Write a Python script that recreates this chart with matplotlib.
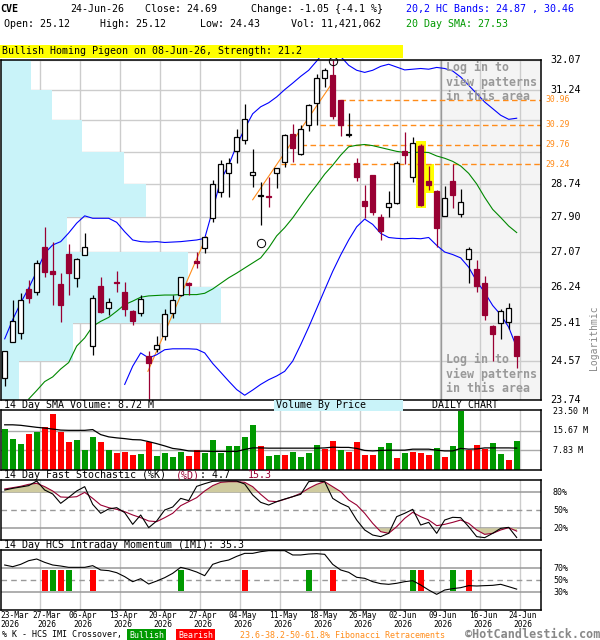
import matplotlib
matplotlib.use('Agg')
import matplotlib.pyplot as plt
import matplotlib.transforms as mtransforms
from matplotlib.patches import Rectangle

plt.rcParams['font.family'] = ['DejaVu Sans Mono']

# ---------------- data ----------------
date_labels = ['23-Mar', '27-Mar', '06-Apr', '13-Apr', '20-Apr', '27-Apr', '04-May',
               '11-May', '18-May', '26-May', '02-Jun', '09-Jun', '16-Jun', '24-Jun']
label_idx = [0, 4, 9, 14, 19, 24, 29, 34, 39, 44, 49, 54, 59, 64]

opens = [24.21, 25.00, 25.18, 26.19, 26.13, 27.18, 26.62, 26.30, 27.01, 26.45,
         26.99, 24.91, 26.27, 25.76, 26.36, 26.12, 25.69, 25.63, 24.68, 24.84,
         25.13, 25.64, 26.06, 26.33, 26.85, 27.16, 27.88, 28.54, 29.02, 29.59,
         29.89, 28.97, 28.43, 28.44, 29.01, 29.31, 30.05, 29.52, 30.29, 30.86,
         31.57, 31.64, 30.95, 30.00, 29.29, 28.31, 28.97, 27.92, 28.17, 28.27,
         29.58, 28.92, 29.72, 28.81, 28.56, 27.94, 28.81, 27.98, 26.89, 26.65,
         26.33, 25.35, 25.41, 25.43, 25.12]
highs = [24.80, 25.94, 26.10, 26.39, 26.88, 27.66, 27.31, 26.56, 27.26, 26.92,
         27.52, 26.04, 26.48, 25.98, 26.62, 26.35, 25.70, 26.06, 24.79, 25.12,
         25.72, 26.04, 26.48, 26.36, 27.07, 27.43, 28.84, 29.35, 29.40, 30.18,
         30.84, 29.65, 28.79, 28.91, 29.15, 30.04, 30.30, 30.27, 30.84, 31.68,
         31.85, 32.07, 30.96, 30.60, 29.41, 28.71, 28.98, 27.99, 28.56, 29.33,
         30.09, 29.96, 29.78, 29.20, 28.58, 28.68, 29.24, 28.60, 27.18, 26.88,
         26.50, 25.36, 25.73, 25.87, 25.12]
lows = [24.03, 24.98, 25.06, 25.87, 26.06, 26.48, 25.81, 25.43, 26.04, 26.23,
        26.99, 24.71, 25.63, 25.60, 26.12, 25.56, 25.36, 25.56, 23.77, 24.78,
        25.04, 25.53, 26.02, 26.06, 26.68, 27.04, 27.80, 28.42, 28.40, 29.27,
        29.77, 28.67, 27.72, 28.17, 28.63, 29.18, 29.31, 29.48, 30.12, 30.27,
        31.30, 30.43, 29.98, 29.96, 28.82, 27.88, 27.96, 27.35, 27.90, 28.23,
        29.24, 28.79, 28.19, 28.58, 27.18, 27.93, 28.13, 27.92, 26.33, 26.13,
        25.47, 24.57, 25.06, 25.28, 24.43]
closes = [24.79, 25.45, 25.94, 25.98, 26.81, 26.58, 26.54, 25.81, 26.56, 26.89,
          27.19, 25.98, 25.66, 25.89, 26.32, 25.73, 25.45, 25.97, 24.54, 24.93,
          25.62, 25.94, 26.47, 26.29, 26.80, 27.41, 28.75, 29.24, 29.27, 29.96,
          30.45, 29.04, 28.45, 28.41, 29.14, 30.01, 29.67, 30.16, 30.83, 31.57,
          31.80, 30.52, 30.29, 30.03, 28.92, 28.19, 28.04, 27.58, 28.25, 29.27,
          29.48, 29.79, 28.21, 28.71, 27.65, 28.38, 28.46, 28.28, 27.13, 26.25,
          25.60, 25.17, 25.68, 25.76, 24.69]

band_upper = [25.06, 25.49, 25.87, 26.21, 26.60, 27.03, 27.23, 27.31, 27.52, 27.76,
              27.94, 27.88, 27.88, 27.88, 27.78, 27.55, 27.35, 27.31, 27.30, 27.31,
              27.29, 27.30, 27.31, 27.33, 27.35, 27.39, 28.09, 28.84, 29.22, 29.74,
              30.18, 30.58, 30.77, 30.88, 31.04, 31.24, 31.42, 31.61, 31.78, 32.04,
              32.32, 32.25, 32.17, 31.92, 31.78, 31.72, 31.78, 31.89, 31.95, 31.87,
              31.79, 31.81, 31.83, 31.81, 31.86, 31.83, 31.76, 31.59, 31.36, 31.13,
              30.90, 30.72, 30.54, 30.43, 30.46]
lower_start = 15
band_lower = [24.07, 24.46, 24.75, 24.64, 24.71, 24.82, 24.84, 24.84, 24.84, 24.83,
              24.75, 24.52, 24.33, 24.14, 23.96, 23.84, 23.95, 24.07, 24.17, 24.25,
              24.35, 24.57, 24.93, 25.32, 25.74, 26.17, 26.60, 26.99, 27.35, 27.67,
              27.86, 27.73, 27.51, 27.41, 27.39, 27.38, 27.39, 27.38, 27.41, 27.22,
              27.06, 27.00, 26.92, 26.70, 26.37, 26.11, 25.81, 25.60, 25.32, 24.87]
sma_start = 3
sma20 = [23.76, 23.94, 24.13, 24.23, 24.40, 24.54, 24.90, 25.08, 25.34, 25.45,
         25.54, 25.68, 25.83, 25.91, 26.00, 26.03, 26.04, 26.05, 26.05, 26.06,
         26.06, 26.06, 26.09, 26.19, 26.32, 26.45, 26.56, 26.68, 26.80, 26.92,
         27.16, 27.45, 27.65, 27.89, 28.17, 28.45, 28.71, 28.99, 29.22, 29.48,
         29.70, 29.74, 29.76, 29.73, 29.68, 29.63, 29.58, 29.55, 29.55, 29.56,
         29.55, 29.46, 29.40, 29.32, 29.20, 29.01, 28.74, 28.40, 28.10, 27.90,
         27.69, 27.53]

price_ticks = [23.74, 24.57, 25.41, 26.24, 27.07, 27.90, 28.74, 29.57, 30.40, 31.24, 32.07]
price_tick_labels = ['23.74', '24.57', '25.41', '26.24', '27.07', '27.90', '28.74',
                     '', '', '31.24', '32.07']
# volume by price, one value per band between price ticks (bottom to top)
vbp_volume = [18, 72, 220, 187, 66, 145, 123, 81, 51, 30]

fib_levels = [29.24, 29.76, 30.29, 30.96]
fib_start = [34.6, 37.1, 39.4, 41.9]
trend_lines = [((17.9, 24.35), (25.2, 27.43)), ((31.0, 28.34), (40.9, 31.41))]
pivot_marks = [(32, 27.28), (41, 32.04)]
pattern_idx = [52, 53]
hidden_from = 54.5

volume = [16.2, 12.2, 10.3, 14.2, 15.0, 17.0, 22.5, 15.0, 11.1, 12.0,
          7.9, 13.0, 11.1, 7.9, 6.7, 7.1, 5.9, 6.3, 11.1, 5.5,
          6.7, 5.1, 7.1, 5.5, 7.9, 6.8, 11.9, 6.8, 9.5, 9.5,
          13.0, 17.8, 9.5, 5.5, 5.8, 5.8, 7.1, 5.1, 6.7, 9.9,
          8.4, 11.5, 7.9, 7.1, 11.1, 5.9, 5.9, 9.1, 10.7, 4.7,
          6.7, 7.1, 6.7, 5.9, 8.7, 5.1, 9.5, 23.4, 7.9, 9.9,
          8.3, 10.7, 6.3, 4.0, 11.42]
volume_dir = 'gggrgrrrrggg' 'rgrrrgrggggrrggggggg' 'rggrggggrrgrrrrggrgrrrgrggrrrggr'
volume_sma = [18.0, 18.0, 17.8, 17.4, 17.0, 16.7, 16.3, 15.9, 15.8, 15.8,
              15.8, 16.1, 14.1, 13.2, 12.8, 12.5, 12.1, 12.0, 11.3, 10.5,
              9.6, 8.6, 8.2, 7.6, 7.5, 7.5, 7.4, 7.4, 7.4, 7.4,
              8.2, 8.8, 8.8, 8.7, 8.7, 8.7, 8.7, 8.7, 8.7, 8.7,
              8.8, 9.1, 9.0, 9.0, 8.6, 7.8, 7.6, 7.8, 7.9, 7.9,
              7.9, 8.3, 8.3, 8.3, 7.9, 7.6, 7.6, 8.6, 8.3, 8.4,
              8.8, 8.8, 8.8, 8.8, 8.72]
volume_ticks = [7.83, 15.67, 23.50]

stoch_k = [83.8, 86.6, 88.8, 91.1, 98.8, 83.8, 77.2, 61.6, 71.6, 82.2,
           89.4, 59.9, 45.0, 52.2, 54.4, 46.1, 26.6, 42.2, 21.1, 32.2,
           50.5, 55.5, 69.9, 66.1, 89.9, 94.4, 98.3, 98.8, 98.8, 98.8,
           93.8, 75.5, 63.3, 58.8, 64.4, 68.8, 72.7, 76.6, 97.7, 98.8,
           97.7, 69.9, 61.6, 55.5, 33.8, 17.2, 8.8, 6.1, 11.6, 39.4,
           45.0, 51.6, 25.5, 29.9, 11.6, 33.8, 38.3, 37.7, 22.7, 6.1,
           4.4, 11.6, 19.9, 21.6, 4.7]
stoch_d = [85.5, 87.7, 90.0, 93.3, 95.0, 89.4, 82.2, 72.2, 71.6, 72.7,
           79.9, 69.9, 58.8, 54.4, 51.6, 47.7, 42.2, 37.7, 32.2, 31.1,
           37.7, 45.0, 57.7, 64.4, 71.1, 82.2, 91.1, 96.6, 97.7, 97.7,
           96.6, 89.4, 76.6, 65.5, 64.4, 68.3, 72.7, 78.3, 86.6, 93.3,
           97.7, 89.4, 81.1, 67.2, 58.8, 45.0, 28.3, 14.4, 11.6, 22.7,
           36.6, 46.6, 39.4, 33.8, 24.4, 26.6, 29.9, 33.8, 28.3, 17.2,
           9.9, 11.6, 17.2, 21.1, 15.3]

imi = [75.5, 72.7, 76.6, 82.7, 85.5, 79.9, 75.5, 73.8, 71.6, 71.6,
       71.6, 74.4, 67.2, 66.1, 62.7, 56.1, 47.7, 52.7, 43.8, 48.8,
       54.4, 61.6, 71.6, 68.3, 63.8, 57.7, 76.6, 81.1, 83.8, 89.9,
       94.9, 94.9, 97.7, 99.4, 99.4, 99.4, 92.2, 92.2, 93.8, 94.4,
       93.3, 76.6, 67.2, 63.3, 55.0, 53.3, 47.7, 44.4, 43.3, 45.0,
       47.7, 49.4, 42.2, 33.8, 26.6, 33.8, 36.1, 37.7, 41.1, 40.5,
       41.1, 41.6, 43.3, 39.4, 35.3]
cross_bull = [6, 8, 22, 38, 51, 56]
cross_bear = [5, 7, 11, 30, 41, 52, 58]

# ---------------- styling ----------------
W, H = 600, 640
MAROON = '#990033'
ORANGE = '#ff8c1a'
GRID = '#cccccc'
CYAN = '#c9f3f9'
GREEN = '#009900'
RED = '#ff0000'
XLIM = (-0.4625, 67.04)

fig = plt.figure(figsize=(W / 100, H / 100), dpi=100)
fig.patch.set_facecolor('white')


def px_axes(x0, y0, x1, y1):
    return fig.add_axes([x0 / W, 1 - y1 / H, (x1 - x0) / W, (y1 - y0) / H])


def ftext(x, y, s, **kw):
    kw.setdefault('va', 'center')
    kw.setdefault('fontsize', 7.2)
    return fig.text(x / W, 1 - y / H, s, **kw)


def frame(ax):
    ax.set_xlim(*XLIM)
    ax.tick_params(which='both', length=0, labelleft=False, labelbottom=False)
    for sp in ax.spines.values():
        sp.set_color('black')
        sp.set_linewidth(1.1)
        sp.set_zorder(20)
    grid_x = [i + 0.41 for i in label_idx[1:]]
    for g in grid_x:
        ax.axvline(g, color=GRID, lw=1.0, zorder=0.5)


ax_p = px_axes(1, 60, 541, 400)
ax_v = px_axes(1, 410, 541, 470)
ax_s = px_axes(1, 480.3, 541, 540.3)
ax_m = px_axes(1, 550.3, 541, 610.3)

# ---------------- price panel ----------------
ax = ax_p
ax.set_yscale('log')
ax.set_ylim(price_ticks[0], price_ticks[-1])
frame(ax)
ax.set_yticks([], minor=True)
ax.set_yticks([])
ax.axvspan(hidden_from, XLIM[1], color='#f4f4f4', zorder=0.2, lw=0)
ax.axvline(hidden_from, color='#999999', lw=1.0, zorder=0.6)
for t in price_ticks:
    ax.axhline(t, color=GRID, lw=1.0, zorder=0.5)

blend = mtransforms.blended_transform_factory(ax.transAxes, ax.transData)
vmax = max(vbp_volume)
for lo, hi, v in zip(price_ticks[:-1], price_ticks[1:], vbp_volume):
    ax.add_patch(Rectangle((0, lo), v / vmax * 0.407, hi - lo, transform=blend,
                           facecolor=CYAN, edgecolor='none', zorder=0.7))

for lvl, x0 in zip(fib_levels, fib_start):
    ax.plot([x0, XLIM[1]], [lvl, lvl], color=ORANGE, lw=1.0, ls=(0, (4, 2.5)), zorder=2)
    ax.text(1.0075, lvl, f'{lvl:.2f}', transform=blend, color=ORANGE, fontsize=5.9,
            va='center', ha='left')
for t, lab in zip(price_ticks, price_tick_labels):
    if lab:
        ax.text(1.0167, t, lab, transform=blend, fontsize=7.3, va='center', ha='left')

for (x0, y0), (x1, y1) in trend_lines:
    ax.plot([x0, x1], [y0, y1], color=ORANGE, lw=0.8, zorder=2)

for i in pattern_idx:
    ax.add_patch(Rectangle((i - 0.62, lows[i] * 0.998), 1.24, highs[i] * 1.002 - lows[i] * 0.998,
                           facecolor='#ffff00', edgecolor='none', zorder=1))

xs = list(range(len(closes)))
ax.plot(xs, band_upper, color='#0000ff', lw=0.8, zorder=3, clip_on=False)
ax.plot(range(lower_start, lower_start + len(band_lower)), band_lower, color='#0000ff', lw=0.8, zorder=3)
ax.plot(range(sma_start, sma_start + len(sma20)), sma20, color='#008800', lw=0.8, zorder=3)

for i, (o, h, l, c) in enumerate(zip(opens, highs, lows, closes)):
    up = c >= o
    col = 'black' if up else MAROON
    ax.vlines(i, l, h, color=col, lw=0.9, zorder=4)
    bottom = min(o, c)
    height = max(abs(c - o), 0.02)
    ax.bar(i, height, bottom=bottom, width=0.62, facecolor='white' if up else MAROON,
           edgecolor=col, lw=0.9, zorder=5)

for i, p in pivot_marks:
    ax.plot(i, p, marker='o', ms=6, mfc='none', mec='black', mew=0.7, zorder=6, clip_on=False)

login_lines = ['Log in to', 'view patterns', 'in this area']
for top in (67, 359):
    for k, s in enumerate(login_lines):
        ftext(446.5, top + 15 * k, s, color='#999999', fontsize=8.4, fontweight='bold', zorder=10)

ftext(594, 338, 'Logarithmic', rotation=90, ha='center', color='#888888', fontsize=7)

# ---------------- volume panel ----------------
ax = ax_v
frame(ax)
ax.set_ylim(0, 23.9)
for t in volume_ticks[:2]:
    ax.axhline(t, color='#aaaaaa', lw=1.0, zorder=0.6)
ax.bar(xs, volume, width=0.72, color=[GREEN if d == 'g' else RED for d in volume_dir],
       zorder=2, lw=0)
ax.plot(xs, volume_sma, color='black', lw=0.9, zorder=3)
vblend = mtransforms.blended_transform_factory(ax.transAxes, ax.transData)
for t in volume_ticks:
    ax.text(1.0222, t, f'{t:.2f} M', transform=vblend, fontsize=6, va='center', ha='left')

# ---------------- stochastic panel ----------------
ax = ax_s
frame(ax)
ax.set_ylim(0, 100)
ax.axhline(80, color='#999999', lw=1.1, zorder=0.6)
ax.axhline(20, color='#999999', lw=1.1, zorder=0.6)
ax.axhline(50, color='#999999', lw=1.0, ls=(0, (4, 3)), zorder=0.6)
ax.fill_between(xs, 80, stoch_d, where=[d >= 80 for d in stoch_d], interpolate=True,
                color='#cfcb9f', lw=0, zorder=1)
ax.fill_between(xs, 20, stoch_d, where=[d <= 20 for d in stoch_d], interpolate=True,
                color='#cfcb9f', lw=0, zorder=1)
ax.plot(xs, stoch_d, color=MAROON, lw=0.8, zorder=3)
ax.plot(xs, stoch_k, color='black', lw=0.8, zorder=4)
sblend = mtransforms.blended_transform_factory(ax.transAxes, ax.transData)
for t in (80, 50, 20):
    ax.text(1.0222, t, f'{t}%', transform=sblend, fontsize=6, va='center', ha='left')

# ---------------- IMI panel ----------------
ax = ax_m
frame(ax)
ax.set_ylim(0, 100)
ax.axhline(70, color='#999999', lw=1.1, zorder=0.6)
ax.axhline(30, color='#999999', lw=1.1, zorder=0.6)
ax.axhline(50, color='#999999', lw=1.0, ls=(0, (4, 3)), zorder=0.6)
ax.bar(cross_bull, 35, bottom=32, width=0.75, color=GREEN, lw=0, zorder=2)
ax.bar(cross_bear, 35, bottom=32, width=0.75, color=RED, lw=0, zorder=2)
ax.plot(xs, imi, color='black', lw=0.8, zorder=3)
mblend = mtransforms.blended_transform_factory(ax.transAxes, ax.transData)
for t in (70, 50, 30):
    ax.text(1.0222, t, f'{t}%', transform=mblend, fontsize=6, va='center', ha='left')

# date labels, two rows under the bottom panel
dblend = mtransforms.blended_transform_factory(ax.transData, fig.transFigure)
for k, (i, lab) in enumerate(zip(label_idx, date_labels)):
    xpos, ha = i + 0.8, 'center'
    if k == 0:
        xpos, ha = XLIM[0] - 0.1, 'left'
    elif k == 1:
        xpos = i + 1.3
    ax.text(xpos, 1 - 616 / H, lab, transform=dblend, fontsize=5.7, ha=ha, va='center')
    ax.text(xpos, 1 - 624.5 / H, '2026', transform=dblend, fontsize=5.7, ha=ha, va='center')

# ---------------- header and titles ----------------
ftext(0, 9, 'CVE', fontweight='bold')
ftext(70, 9, '24-Jun-26')
ftext(145, 9, 'Close: 24.69')
ftext(251, 9, 'Change: -1.05 {-4.1 %}')
ftext(406, 9, '20,2 HC Bands: 24.87 , 30.46', color='#0000ff')
ftext(4.5, 24, 'Open: 25.12')
ftext(100, 24, 'High: 25.12')
ftext(200, 24, 'Low: 24.43')
ftext(291, 24, 'Vol: 11,421,062')
ftext(406, 24, '20 Day SMA: 27.53', color=GREEN)

fig.patches.append(Rectangle((0, 1 - 57.5 / H), 403 / W, 12 / H, transform=fig.transFigure,
                             facecolor='#ffff00', edgecolor='none', zorder=0))
ftext(1.5, 51.5, 'Bullish Homing Pigeon on 08-Jun-26, Strength: 21.2')

fig.patches.append(Rectangle((274 / W, 1 - 410.5 / H), 129 / W, 10.5 / H, transform=fig.transFigure,
                             facecolor=CYAN, edgecolor='none', zorder=0))
ftext(4.5, 405, '14 Day SMA Volume: 8.72 M')
ftext(276, 405, 'Volume By Price')
ftext(432, 405, 'DAILY CHART')

ftext(4.5, 475, '14 Day Fast Stochastic (%K)')
ftext(176, 475, '(%D)', color=MAROON)
ftext(200, 475, ': 4.7')
ftext(248, 475, '15.3', color=MAROON)

ftext(4.5, 545, '14 Day HCS Intraday Momentum (IMI): 35.3')

# legend line
ftext(2, 635, '% K - HCS IMI Crossover,', fontsize=6)
ftext(129, 635, 'Bullish', fontsize=6, color='white',
      bbox=dict(facecolor=GREEN, edgecolor='none', pad=1.2))
ftext(178, 635, 'Bearish', fontsize=6, color='white',
      bbox=dict(facecolor=RED, edgecolor='none', pad=1.2))
ftext(240, 635, '23.6-38.2-50-61.8% Fibonacci Retracements', fontsize=6, color=ORANGE)
ftext(465, 634, '\u00a9HotCandlestick.com', fontsize=8.5, color='#888888', fontweight='bold')

fig.savefig('out.png', dpi=100)
